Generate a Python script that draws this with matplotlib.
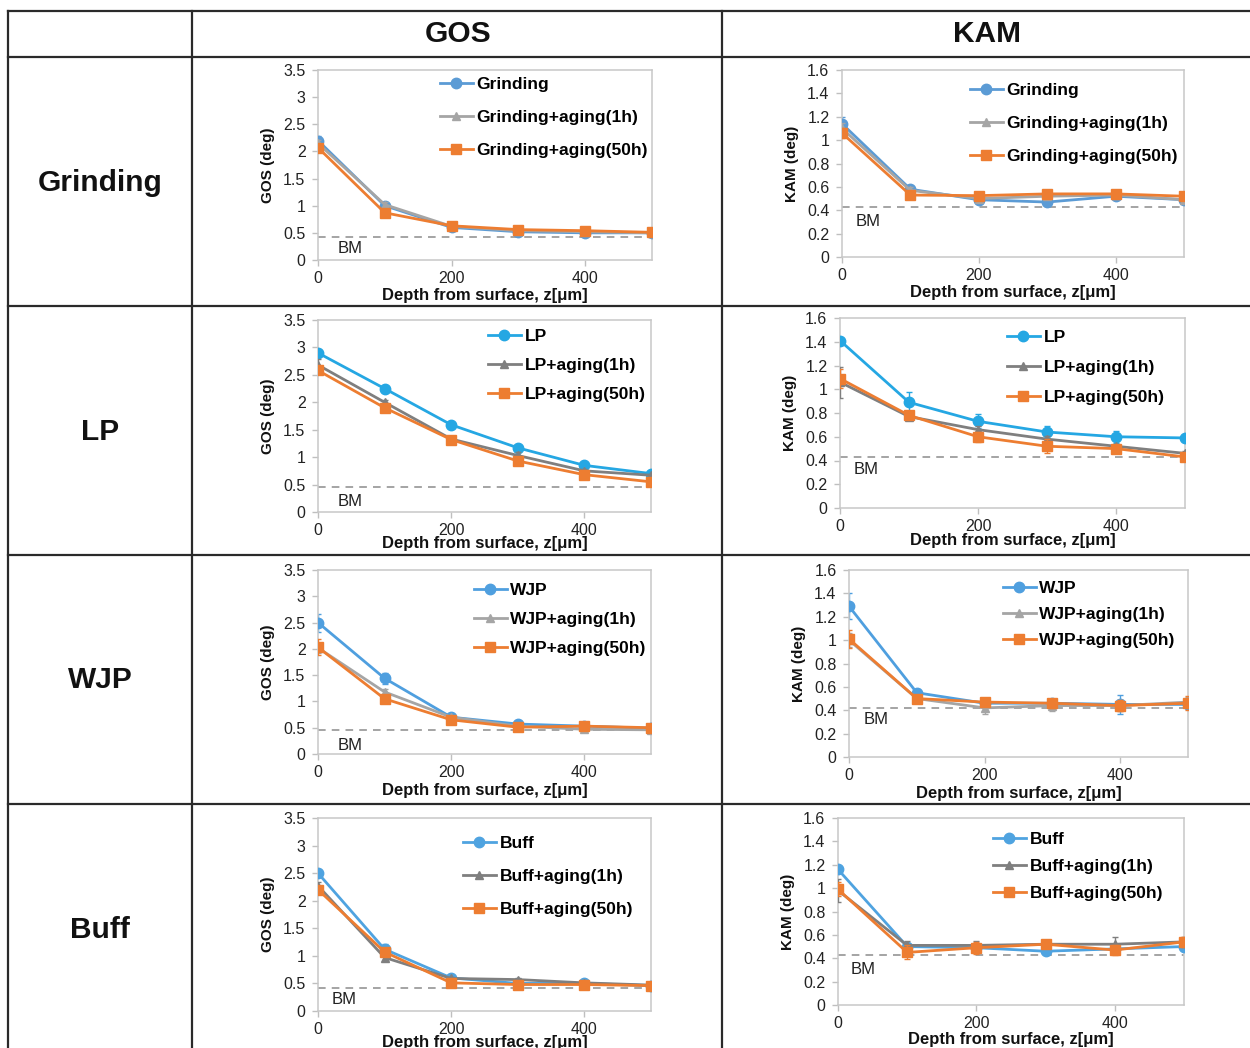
import matplotlib
matplotlib.use('Agg')
import matplotlib.pyplot as plt
from matplotlib.lines import Line2D
from matplotlib.ticker import FuncFormatter, MultipleLocator

plt.rcParams['font.family'] = ['Liberation Sans', 'DejaVu Sans']

# ---------------- data ----------------
depth = [0, 100, 200, 300, 400, 500]
col_titles = ['GOS', 'KAM']
row_titles = ['Grinding', 'LP', 'WJP', 'Buff']
suffixes = ['', '+aging(1h)', '+aging(50h)']

grinding_gos = [2.20, 1.00, 0.60, 0.52, 0.50, 0.50]
grinding_gos_1h = [2.15, 1.02, 0.62, 0.54, 0.52, 0.50]
grinding_gos_50h = [2.07, 0.87, 0.63, 0.56, 0.54, 0.51]
grinding_kam = [1.14, 0.58, 0.49, 0.47, 0.52, 0.49]
grinding_kam_1h = [1.10, 0.57, 0.50, 0.52, 0.53, 0.49]
grinding_kam_50h = [1.06, 0.53, 0.525, 0.54, 0.54, 0.52]

lp_gos = [2.90, 2.25, 1.59, 1.17, 0.85, 0.70]
lp_gos_1h = [2.68, 2.00, 1.33, 1.03, 0.75, 0.67]
lp_gos_50h = [2.58, 1.90, 1.32, 0.93, 0.68, 0.55]
lp_kam = [1.41, 0.89, 0.73, 0.64, 0.60, 0.59]
lp_kam_1h = [1.06, 0.77, 0.66, 0.58, 0.52, 0.46]
lp_kam_50h = [1.09, 0.78, 0.60, 0.52, 0.50, 0.43]

wjp_gos = [2.50, 1.44, 0.70, 0.57, 0.53, 0.49]
wjp_gos_1h = [2.02, 1.18, 0.70, 0.53, 0.47, 0.46]
wjp_gos_50h = [2.03, 1.05, 0.65, 0.51, 0.53, 0.50]
wjp_kam = [1.29, 0.55, 0.46, 0.46, 0.45, 0.45]
wjp_kam_1h = [1.00, 0.50, 0.42, 0.44, 0.44, 0.47]
wjp_kam_50h = [1.01, 0.50, 0.47, 0.46, 0.44, 0.46]

buff_gos = [2.50, 1.12, 0.60, 0.50, 0.50, 0.46]
buff_gos_1h = [2.27, 0.97, 0.59, 0.57, 0.51, 0.47]
buff_gos_50h = [2.20, 1.07, 0.51, 0.48, 0.48, 0.46]
buff_kam = [1.16, 0.50, 0.49, 0.46, 0.48, 0.50]
buff_kam_1h = [0.98, 0.51, 0.51, 0.52, 0.52, 0.54]
buff_kam_50h = [0.99, 0.45, 0.49, 0.52, 0.47, 0.54]

# error bars
grinding_gos_err = [0.08, 0.05, 0.03, 0.02, 0.02, 0.02]
grinding_gos_1h_err = [0.06, 0.05, 0.03, 0.02, 0.02, 0.02]
grinding_gos_50h_err = [0.05, 0.04, 0.03, 0.02, 0.02, 0.02]
grinding_kam_err = [0.06, 0.03, 0.03, 0.03, 0.02, 0.02]
grinding_kam_1h_err = [0.05, 0.03, 0.02, 0.02, 0.02, 0.02]
grinding_kam_50h_err = [0.04, 0.02, 0.02, 0.02, 0.02, 0.02]
lp_gos_err = [0.06, 0.04, 0.04, 0.04, 0.03, 0.03]
lp_gos_1h_err = [0.10, 0.05, 0.04, 0.07, 0.03, 0.03]
lp_gos_50h_err = [0.05, 0.04, 0.03, 0.03, 0.03, 0.03]
lp_kam_err = [0.02, 0.09, 0.06, 0.05, 0.05, 0.02]
lp_kam_1h_err = [0.13, 0.03, 0.03, 0.03, 0.02, 0.02]
lp_kam_50h_err = [0.08, 0.03, 0.04, 0.06, 0.02, 0.02]
wjp_gos_err = [0.17, 0.10, 0.04, 0.03, 0.03, 0.03]
wjp_gos_1h_err = [0.10, 0.05, 0.03, 0.03, 0.03, 0.03]
wjp_gos_50h_err = [0.15, 0.04, 0.03, 0.03, 0.03, 0.03]
wjp_kam_err = [0.11, 0.03, 0.03, 0.03, 0.08, 0.04]
wjp_kam_1h_err = [0.06, 0.03, 0.05, 0.05, 0.05, 0.04]
wjp_kam_50h_err = [0.08, 0.03, 0.03, 0.04, 0.05, 0.06]
buff_gos_err = [0.05, 0.10, 0.04, 0.03, 0.03, 0.03]
buff_gos_1h_err = [0.07, 0.06, 0.03, 0.03, 0.03, 0.03]
buff_gos_50h_err = [0.07, 0.05, 0.03, 0.03, 0.03, 0.03]
buff_kam_err = [0.03, 0.03, 0.03, 0.02, 0.03, 0.03]
buff_kam_1h_err = [0.10, 0.04, 0.04, 0.03, 0.06, 0.04]
buff_kam_50h_err = [0.06, 0.06, 0.05, 0.03, 0.04, 0.04]

bm_values = [[0.42, 0.43], [0.45, 0.43], [0.45, 0.42], [0.42, 0.43]]

# ---------------- style / layout ----------------
W, H = 1250, 1048
fig = plt.figure(figsize=(W / 100, H / 100), dpi=100)
fig.patch.set_facecolor('white')

ORANGE = '#ED7D31'
blue_by_row = ['#5B9BD5', '#25A7E3', '#4F9FDF', '#4FA3E0']
gray_by_row = ['#A5A5A5', '#7F7F7F', '#A5A5A5', '#7F7F7F']

series = [
    [[(grinding_gos, grinding_gos_err), (grinding_gos_1h, grinding_gos_1h_err), (grinding_gos_50h, grinding_gos_50h_err)],
     [(grinding_kam, grinding_kam_err), (grinding_kam_1h, grinding_kam_1h_err), (grinding_kam_50h, grinding_kam_50h_err)]],
    [[(lp_gos, lp_gos_err), (lp_gos_1h, lp_gos_1h_err), (lp_gos_50h, lp_gos_50h_err)],
     [(lp_kam, lp_kam_err), (lp_kam_1h, lp_kam_1h_err), (lp_kam_50h, lp_kam_50h_err)]],
    [[(wjp_gos, wjp_gos_err), (wjp_gos_1h, wjp_gos_1h_err), (wjp_gos_50h, wjp_gos_50h_err)],
     [(wjp_kam, wjp_kam_err), (wjp_kam_1h, wjp_kam_1h_err), (wjp_kam_50h, wjp_kam_50h_err)]],
    [[(buff_gos, buff_gos_err), (buff_gos_1h, buff_gos_1h_err), (buff_gos_50h, buff_gos_50h_err)],
     [(buff_kam, buff_kam_err), (buff_kam_1h, buff_kam_1h_err), (buff_kam_50h, buff_kam_50h_err)]],
]

# axes boxes in pixels (left, top, right, bottom)
boxes = [
    [(318, 70, 652, 260), (842, 70, 1184, 257)],
    [(318, 320, 651, 512), (840, 318, 1185, 508)],
    [(318, 570, 651, 754), (849, 570, 1188, 757)],
    [(318, 818, 651, 1011), (838, 818, 1184, 1005)],
]
# legend: handle-start x, first entry centre y, entry spacing (pixels)
legends = [
    [(440, 84, 33), (970, 90, 33)],
    [(488, 336, 29), (1007, 337, 30)],
    [(474, 590, 29), (1003, 588, 26)],
    [(463, 843, 33), (993, 839, 27)],
]
bm_text_pos = [
    [(350, 248), (868, 221)],
    [(350, 501), (866, 469)],
    [(350, 745), (876, 719)],
    [(344, 1000), (863, 969)],
]
xlabel_gap = [[28, 28], [24, 25], [29, 29], [24, 27]]

ymax = [3.5, 1.6]
ystep = [0.5, 0.2]


def fmt(v, pos):
    return '{:g}'.format(round(v, 2))


def add_ax(box):
    l, t, r, b = box
    return fig.add_axes([l / W, 1 - b / H, (r - l) / W, (b - t) / H])


markers = ['o', '^', 's']
msizes = [7.5, 6.0, 7.5]

for i, row in enumerate(row_titles):
    for j, metric in enumerate(col_titles):
        ax = add_ax(boxes[i][j])
        ax.set_facecolor('white')
        colors = [blue_by_row[i], gray_by_row[i], ORANGE]
        handles = []
        for k, (vals, errs) in enumerate(series[i][j]):
            ax.errorbar(depth, vals, yerr=errs, fmt='none', ecolor=colors[k],
                        elinewidth=1.0, capsize=2.5, capthick=1.0, zorder=2 + k)
            ln, = ax.plot(depth, vals, color=colors[k], lw=2.0, marker=markers[k],
                          ms=msizes[k], mec=colors[k], mfc=colors[k], zorder=3 + k,
                          label=row + suffixes[k])
            handles.append(ln)
        ax.plot([0, 500], [bm_values[i][j]] * 2, ls=(0, (5, 4)), color='#8C8C8C',
                lw=1.1, zorder=1)
        bx, by = bm_text_pos[i][j]
        fig.text(bx / W, 1 - by / H, 'BM', fontsize=12, color='#222222',
                 ha='center', va='center')

        ax.set_xlim(0, 500)
        ax.set_ylim(0, ymax[j])
        ax.xaxis.set_major_locator(MultipleLocator(200))
        ax.yaxis.set_major_locator(MultipleLocator(ystep[j]))
        ax.yaxis.set_major_formatter(FuncFormatter(fmt))
        ax.tick_params(axis='both', labelsize=11.5, colors='#BFBFBF',
                       labelcolor='#222222', length=4, width=1.0)
        ax.tick_params(axis='x', pad=4)
        ax.tick_params(axis='y', pad=5)
        for sp in ax.spines.values():
            sp.set_color('#C8C8C8')
            sp.set_linewidth(1.1)

        l, t, r, b = boxes[i][j]
        ax.set_xlabel('Depth from surface, z[μm]', fontsize=12, fontweight='bold',
                      color='#111111')
        ax.xaxis.set_label_coords(0.5, -xlabel_gap[i][j] / (b - t))
        ax.set_ylabel(metric + ' (deg)', fontsize=11, fontweight='bold', color='#111111')
        ax.yaxis.set_label_coords(-43 / (r - l), 0.5)

        lx, ly, sp_px = legends[i][j]
        fs = 12.5
        fs_px = fs * 100 / 72
        lab_sp = max(0.1, (sp_px - fs_px + 2) / fs_px)
        ax.legend(handles=handles, loc='upper left',
                  bbox_to_anchor=(lx / W, 1 - (ly - fs_px * 0.5 + 2) / H),
                  bbox_transform=fig.transFigure, frameon=False, borderpad=0,
                  borderaxespad=0, handlelength=1.9, handletextpad=0.2,
                  labelspacing=lab_sp, numpoints=1,
                  prop={'size': fs, 'weight': 'bold'})

# ---------------- table grid and headings ----------------
def hline(y, x0=8, x1=1250):
    fig.add_artist(Line2D([x0 / W, x1 / W], [1 - y / H, 1 - y / H],
                          transform=fig.transFigure, color='#2A2A2A', lw=1.6))


def vline(x, y0=11, y1=1048):
    fig.add_artist(Line2D([x / W, x / W], [1 - y0 / H, 1 - y1 / H],
                          transform=fig.transFigure, color='#2A2A2A', lw=1.6))


for y in [11, 57, 306, 555, 804]:
    hline(y)
for x in [8, 192, 722]:
    vline(x)

for x, title in zip([458, 987], col_titles):
    fig.text(x / W, 1 - 34 / H, title, fontsize=21.5, fontweight='bold',
             ha='center', va='center', color='#111111')
for y, title in zip([183, 432, 680, 930], row_titles):
    fig.text(100 / W, 1 - y / H, title, fontsize=21.5, fontweight='bold',
             ha='center', va='center', color='#111111')

fig.savefig('out.png', dpi=100)
